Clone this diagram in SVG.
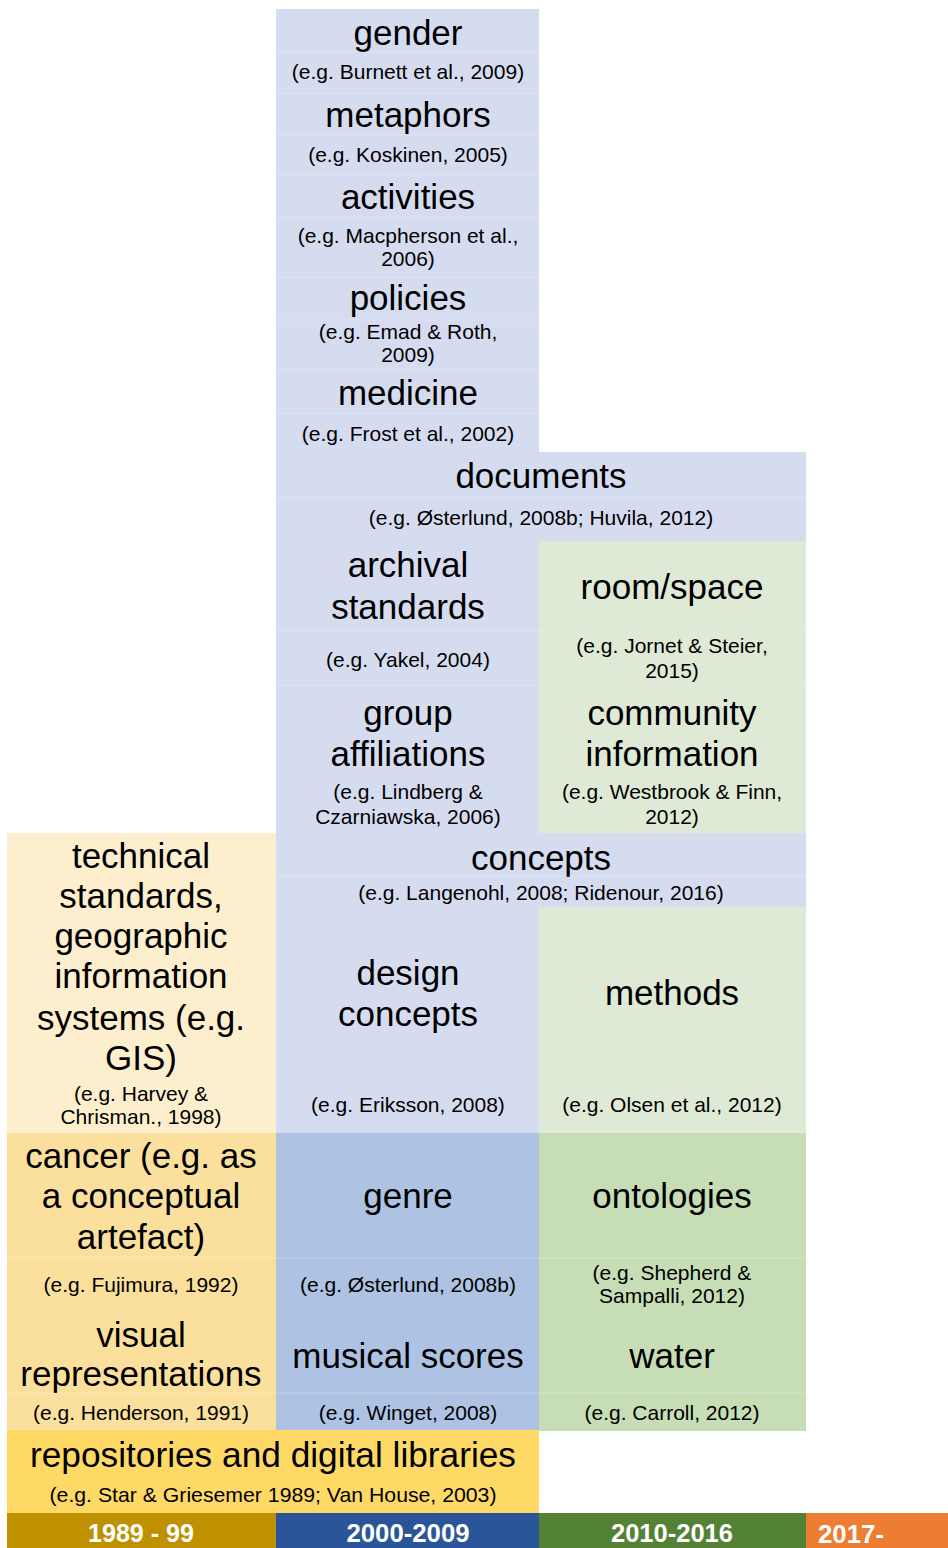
<svg xmlns="http://www.w3.org/2000/svg" width="948" height="1548" viewBox="0 0 948 1548">
<style>
text{font-family:"Liberation Sans",Arial,sans-serif;fill:#000;text-anchor:middle}
.t{font-size:35px}
.c{font-size:21px}
.y{font-size:26px;font-weight:bold;fill:#fff}
.pb{fill:#D6DCEF}.pg{fill:#DFEAD6}.py{fill:#FDEFCD}
.mb{fill:#AEC3E3}.mg{fill:#C7DDB5}.my{fill:#FBE09D}
.sep{stroke:#fff;stroke-opacity:0.25;stroke-width:1}
</style>
<rect width="948" height="1548" fill="#fff"/>
<g id="connectors"/>
<g id="gender"><rect class="pb" x="276" y="9" width="263" height="84"/><text class="t" x="408" y="45">gender</text><text class="c" x="408" y="79">(e.g. Burnett et al., 2009)</text></g>
<g id="metaphors"><rect class="pb" x="276" y="93" width="263" height="82"/><text class="t" x="408" y="127">metaphors</text><text class="c" x="408" y="162">(e.g. Koskinen, 2005)</text></g>
<g id="activities"><rect class="pb" x="276" y="175" width="263" height="102"/><text class="t" x="408" y="209">activities</text><text class="c" x="408" y="243">(e.g. Macpherson et al.,</text><text class="c" x="408" y="266">2006)</text></g>
<g id="policies"><rect class="pb" x="276" y="277" width="263" height="93"/><text class="t" x="408" y="310">policies</text><text class="c" x="408" y="339">(e.g. Emad &amp; Roth,</text><text class="c" x="408" y="362">2009)</text></g>
<g id="medicine"><rect class="pb" x="276" y="370" width="263" height="83"/><text class="t" x="408" y="405">medicine</text><text class="c" x="408" y="441">(e.g. Frost et al., 2002)</text></g>
<g id="documents"><rect class="pb" x="276" y="452" width="530" height="90"/><text class="t" x="541" y="488">documents</text><text class="c" x="541" y="525">(e.g. Østerlund, 2008b; Huvila, 2012)</text></g>
<g id="archival-standards"><rect class="pb" x="276" y="541" width="263" height="145"/><text class="t" x="408" y="577">archival</text><text class="t" x="408" y="619">standards</text><text class="c" x="408" y="667">(e.g. Yakel, 2004)</text></g>
<g id="room-space"><rect class="pg" x="539" y="541" width="267" height="145"/><text class="t" x="672" y="599">room/space</text><text class="c" x="672" y="653">(e.g. Jornet &amp; Steier,</text><text class="c" x="672" y="678">2015)</text></g>
<g id="group-affiliations"><rect class="pb" x="276" y="685" width="263" height="149"/><text class="t" x="408" y="725">group</text><text class="t" x="408" y="766">affiliations</text><text class="c" x="408" y="799">(e.g. Lindberg &amp;</text><text class="c" x="408" y="824">Czarniawska, 2006)</text></g>
<g id="community-information"><rect class="pg" x="539" y="685" width="267" height="149"/><text class="t" x="672" y="725">community</text><text class="t" x="672" y="766">information</text><text class="c" x="672" y="799">(e.g. Westbrook &amp; Finn,</text><text class="c" x="672" y="824">2012)</text></g>
<g id="concepts"><rect class="pb" x="276" y="833" width="530" height="75"/><text class="t" x="541" y="870">concepts</text><text class="c" x="541" y="900">(e.g. Langenohl, 2008; Ridenour, 2016)</text></g>
<g id="technical-standards"><rect class="py" x="7" y="833" width="269" height="301"/><text class="t" x="141" y="868">technical</text><text class="t" x="141" y="908">standards,</text><text class="t" x="141" y="948">geographic</text><text class="t" x="141" y="988">information</text><text class="t" x="141" y="1030">systems (e.g.</text><text class="t" x="141" y="1070">GIS)</text><text class="c" x="141" y="1101">(e.g. Harvey &amp;</text><text class="c" x="141" y="1124">Chrisman., 1998)</text></g>
<g id="design-concepts"><rect class="pb" x="276" y="907" width="263" height="227"/><text class="t" x="408" y="985">design</text><text class="t" x="408" y="1026">concepts</text><text class="c" x="408" y="1112">(e.g. Eriksson, 2008)</text></g>
<g id="methods"><rect class="pg" x="539" y="907" width="267" height="227"/><text class="t" x="672" y="1005">methods</text><text class="c" x="672" y="1112">(e.g. Olsen et al., 2012)</text></g>
<g id="cancer"><rect class="my" x="7" y="1133" width="269" height="177"/><text class="t" x="141" y="1168">cancer (e.g. as</text><text class="t" x="141" y="1208">a conceptual</text><text class="t" x="141" y="1249">artefact)</text><text class="c" x="141" y="1292">(e.g. Fujimura, 1992)</text></g>
<g id="genre"><rect class="mb" x="276" y="1133" width="263" height="177"/><text class="t" x="408" y="1208">genre</text><text class="c" x="408" y="1292">(e.g. Østerlund, 2008b)</text></g>
<g id="ontologies"><rect class="mg" x="539" y="1133" width="267" height="177"/><text class="t" x="672" y="1208">ontologies</text><text class="c" x="672" y="1280">(e.g. Shepherd &amp;</text><text class="c" x="672" y="1303">Sampalli, 2012)</text></g>
<g id="visual-representations"><rect class="my" x="7" y="1309" width="269" height="122"/><text class="t" x="141" y="1347">visual</text><text class="t" x="141" y="1386">representations</text><text class="c" x="141" y="1420">(e.g. Henderson, 1991)</text></g>
<g id="musical-scores"><rect class="mb" x="276" y="1309" width="263" height="122"/><text class="t" x="408" y="1368">musical scores</text><text class="c" x="408" y="1420">(e.g. Winget, 2008)</text></g>
<g id="water"><rect class="mg" x="539" y="1309" width="267" height="122"/><text class="t" x="672" y="1368">water</text><text class="c" x="672" y="1420">(e.g. Carroll, 2012)</text></g>
<g id="repositories"><rect fill="#FFD966" x="7" y="1430" width="532" height="84"/><text class="t" x="273" y="1467" textLength="486" lengthAdjust="spacingAndGlyphs">repositories and digital libraries</text><text class="c" x="273" y="1502" textLength="447" lengthAdjust="spacingAndGlyphs">(e.g. Star &amp; Griesemer 1989; Van House, 2003)</text></g>
<g id="separators">
<path class="sep" d="M276 52H539M276 93H539M276 135H539M276 175H539M276 218H539M276 277H539M276 320H539M276 370H539M276 413H539M276 497H806M276 630H806M276 685H806M276 876H806M276 1258H806M276 1393H806M7 1393H276M7 1258H276"/>
</g>
<g id="timeline">
<rect fill="#BF9000" x="7" y="1513" width="269" height="35"/>
<rect fill="#2A5599" x="276" y="1513" width="263" height="35"/>
<rect fill="#548235" x="539" y="1513" width="267" height="35"/>
<rect fill="#ED7D31" x="806" y="1513" width="142" height="35"/>
<text class="y" x="141" y="1542" textLength="106" lengthAdjust="spacingAndGlyphs">1989 - 99</text>
<text class="y" x="408" y="1542" textLength="123" lengthAdjust="spacingAndGlyphs">2000-2009</text>
<text class="y" x="672" y="1542" textLength="122" lengthAdjust="spacingAndGlyphs">2010-2016</text>
<text class="y" x="818" y="1543" style="text-anchor:start" textLength="66" lengthAdjust="spacingAndGlyphs">2017-</text>
</g>
</svg>
